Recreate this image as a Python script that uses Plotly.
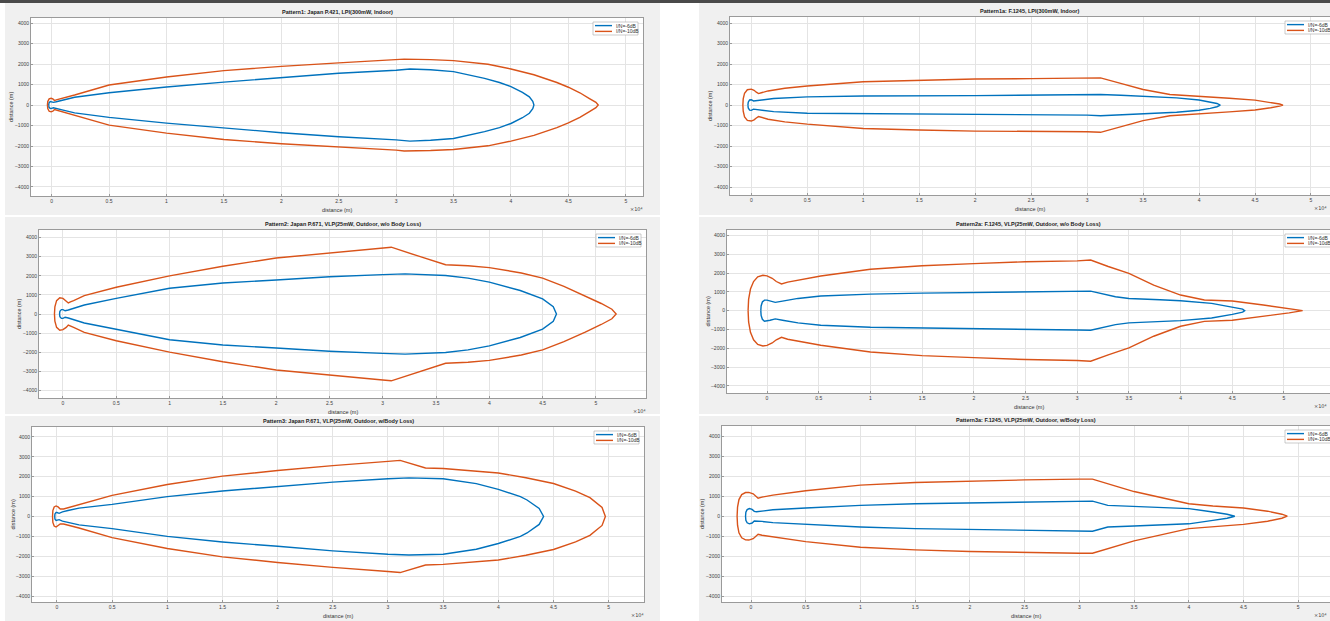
import plotly.graph_objects as go

W, H = 1330, 621
BLUE = "#0072BD"
ORANGE = "#D95319"
FONT = "Liberation Sans, Arial, sans-serif"

titles = [
    "Pattern1: Japan P.421, LPI(300mW, Indoor)",
    "Pattern1a: F.1245, LPI(300mW, Indoor)",
    "Pattern2: Japan P.671, VLP(25mW, Outdoor, w/o Body Loss)",
    "Pattern2a: F.1245, VLP(25mW, Outdoor, w/o Body Loss)",
    "Pattern3: Japan P.671, VLP(25mW, Outdoor, w/Body Loss)",
    "Pattern3a: F.1245, VLP(25mW, Outdoor, w/Body Loss)",
]
series_names = ["I/N=-6dB", "I/N=-10dB"]
series_colors = [BLUE, ORANGE]
x_label = "distance (m)"
y_label = "distance (m)"
x_tick_vals = [0, 5000, 10000, 15000, 20000, 25000, 30000, 35000, 40000, 45000, 50000]
x_tick_text = ["0", "0.5", "1", "1.5", "2", "2.5", "3", "3.5", "4", "4.5", "5"]
y_tick_vals = [-4000, -3000, -2000, -1000, 0, 1000, 2000, 3000, 4000]
x_exponent = "\u00d710\u2074"

# upper halves of the contours (x, y in metres); the lower halves mirror them
p1_blue_x = [-260, -230, -120, 0, 150, 400, 1000, 2000, 5000, 10000, 15000, 20000, 25000, 30000, 31200, 33000, 35000, 37700, 39000, 40000, 41000, 41600, 41900, 42000]
p1_blue_y = [0, 110, 170, 160, 130, 160, 250, 380, 600, 880, 1120, 1350, 1550, 1700, 1760, 1720, 1630, 1300, 1100, 900, 620, 400, 180, 0]
p1_orange_x = [-370, -340, -220, -50, 100, 250, 400, 1000, 2000, 5000, 10000, 15000, 20000, 25000, 30000, 30700, 33000, 35000, 38000, 40000, 42000, 44000, 45000, 46000, 46800, 47400, 47600]
p1_orange_y = [0, 170, 300, 330, 300, 220, 250, 340, 490, 980, 1370, 1680, 1890, 2060, 2200, 2240, 2220, 2170, 1990, 1760, 1480, 1100, 870, 600, 330, 130, 0]

p2_blue_x = [-300, -270, -150, 0, 200, 400, 1000, 2000, 5000, 10000, 20000, 30000, 31200, 33000, 35000, 38000, 40000, 41000, 41600, 41900]
p2_blue_y = [0, 140, 250, 260, 200, 210, 260, 320, 400, 440, 460, 490, 520, 480, 440, 350, 250, 160, 80, 0]
p2_orange_x = [-750, -720, -600, -350, 0, 250, 450, 650, 900, 1500, 3000, 5000, 10000, 15000, 20000, 25000, 30000, 31200, 33000, 35000, 37400, 40000, 42700, 45000, 46400, 47200, 47500]
p2_orange_y = [0, 300, 580, 750, 780, 720, 630, 560, 600, 690, 820, 930, 1140, 1220, 1270, 1290, 1300, 1330, 1060, 760, 520, 410, 330, 240, 130, 50, 0]

p3_blue_x = [-320, -290, -150, 0, 200, 500, 2000, 5000, 10000, 15000, 20000, 25000, 30000, 32100, 35900, 38000, 40000, 42900, 45000, 46000, 46300]
p3_blue_y = [0, 140, 230, 230, 170, 210, 470, 820, 1350, 1620, 1780, 1950, 2060, 2100, 2020, 1880, 1670, 1230, 790, 380, 0]
p3_orange_x = [-800, -760, -600, -300, 0, 300, 500, 700, 1000, 2000, 5000, 10000, 15000, 20000, 25000, 30000, 30800, 33300, 35900, 38000, 40000, 43000, 45000, 47000, 49000, 50500, 51500, 51900]
p3_orange_y = [0, 380, 700, 850, 820, 700, 580, 640, 700, 960, 1400, 2000, 2500, 2930, 3200, 3460, 3500, 3040, 2580, 2530, 2430, 2150, 1880, 1450, 950, 550, 250, 0]

p4_blue_x = [-600, -570, -450, -250, 0, 300, 800, 1500, 3000, 5200, 10000, 15000, 20000, 25000, 30000, 31300, 33700, 35000, 38000, 40000, 43000, 45000, 46000, 46200]
p4_blue_y = [0, 250, 460, 560, 560, 510, 440, 510, 650, 780, 880, 930, 970, 1000, 1030, 1040, 740, 650, 580, 530, 390, 200, 80, 0]
p4_orange_x = [-1830, -1780, -1600, -1300, -900, -400, 0, 500, 900, 1400, 2000, 5200, 10000, 15000, 20000, 25000, 30000, 31300, 33000, 35000, 37400, 40000, 42300, 45000, 48000, 50500, 51800]
p4_orange_y = [0, 600, 1150, 1550, 1800, 1880, 1850, 1720, 1550, 1420, 1520, 1840, 2200, 2390, 2500, 2600, 2650, 2690, 2350, 1980, 1360, 830, 570, 510, 300, 120, 0]

p5_blue_x = [-200, -180, -80, 0, 200, 500, 1000, 2000, 5000, 10000, 15000, 20000, 25000, 30000, 31900, 35000, 38000, 40000, 42000, 42600, 43700, 44100]
p5_blue_y = [0, 130, 200, 200, 160, 230, 300, 420, 610, 1000, 1280, 1500, 1730, 1900, 1940, 1900, 1650, 1360, 1000, 830, 400, 0]
p5_orange_x = [-400, -370, -250, -80, 100, 300, 600, 1000, 2000, 5000, 10000, 15000, 20000, 25000, 30000, 31100, 33400, 35000, 40000, 42500, 45000, 47000, 48300, 49400, 49700]
p5_orange_y = [0, 300, 480, 530, 480, 380, 380, 440, 580, 1060, 1610, 2030, 2310, 2560, 2770, 2820, 2440, 2410, 2190, 1950, 1660, 1280, 950, 450, 0]

p6_blue_x = [-500, -470, -350, -150, 100, 300, 500, 1000, 2000, 5000, 10000, 15000, 20000, 25000, 30000, 31200, 32600, 35000, 40000, 42200, 43500, 44200]
p6_blue_y = [0, 200, 330, 380, 340, 240, 220, 260, 320, 410, 540, 620, 650, 690, 740, 750, 540, 490, 380, 210, 100, 0]
p6_orange_x = [-1270, -1230, -1100, -850, -500, -200, 200, 500, 650, 1000, 2000, 5000, 10000, 15000, 20000, 25000, 30000, 31200, 33700, 35000, 40000, 42200, 45000, 47200, 48500, 49000]
p6_orange_y = [0, 450, 830, 1080, 1180, 1190, 1120, 980, 900, 950, 1050, 1270, 1550, 1680, 1760, 1810, 1850, 1850, 1440, 1230, 620, 510, 410, 250, 100, 0]

curves = [
    (p1_blue_x, p1_blue_y, p1_orange_x, p1_orange_y),
    (p2_blue_x, p2_blue_y, p2_orange_x, p2_orange_y),
    (p3_blue_x, p3_blue_y, p3_orange_x, p3_orange_y),
    (p4_blue_x, p4_blue_y, p4_orange_x, p4_orange_y),
    (p5_blue_x, p5_blue_y, p5_orange_x, p5_orange_y),
    (p6_blue_x, p6_blue_y, p6_orange_x, p6_orange_y),
]

# layout (pixels): axes box and axis ranges, plus the grey figure panel behind
panels = [
    dict(l=31, r=643, t=18, b=196, xr=[-1800, 51500], yr=[-4440, 4250], fig=(5, 3, 660, 215), left=True),
    dict(l=730, r=1330, t=17, b=195, xr=[-1900, 51700], yr=[-4390, 4300], fig=(699, 3, 1330, 215), left=False),
    dict(l=39, r=646, t=230, b=398, xr=[-2250, 54700], yr=[-4400, 4400], fig=(5, 217, 660, 414), left=True),
    dict(l=727, r=1330, t=230, b=393, xr=[-3870, 54450], yr=[-4380, 4290], fig=(699, 217, 1330, 414), left=False),
    dict(l=32, r=644, t=427, b=602, xr=[-2260, 53200], yr=[-4300, 4500], fig=(5, 416, 660, 621), left=True),
    dict(l=722, r=1330, t=426, b=602, xr=[-2650, 52900], yr=[-4280, 4500], fig=(699, 416, 1330, 621), left=False),
]


def px(x):
    return x / W


def py(y):
    return 1 - y / H


def closed(ux, uy):
    xs = list(ux) + list(reversed(ux))[1:]
    ys = list(uy) + [-v for v in reversed(uy)][1:]
    return xs, ys


fig = go.Figure()
shapes = [dict(type="rect", xref="paper", yref="paper", x0=0, x1=1, y0=py(3), y1=1,
               fillcolor="#4a4a4a", line_width=0, layer="below")]
annotations = []
layout = {}

for i, (p, c, title) in enumerate(zip(panels, curves, titles)):
    k = "" if i == 0 else str(i + 1)
    xa, ya = "xaxis" + k, "yaxis" + k
    fx0, fy0, fx1, fy1 = p["fig"]
    shapes.append(dict(type="rect", xref="paper", yref="paper", x0=px(fx0), x1=px(fx1),
                       y0=py(fy1), y1=py(fy0), fillcolor="#f0f0f0", line_width=0, layer="below"))
    shapes.append(dict(type="rect", xref="paper", yref="paper", x0=px(p["l"]), x1=px(p["r"]),
                       y0=py(p["b"]), y1=py(p["t"]), fillcolor="#ffffff", line_width=0, layer="below"))
    axis_common = dict(showline=True, mirror=True, linecolor="#9a9a9a", linewidth=1,
                       showgrid=True, gridcolor="#e4e4e4", gridwidth=1, zeroline=False,
                       ticks="inside", ticklen=2, tickcolor="#9a9a9a",
                       tickfont=dict(size=5, color="#404040", family=FONT))
    layout[xa] = dict(domain=[px(p["l"]), px(p["r"])], range=p["xr"], anchor="y" + k,
                      tickvals=x_tick_vals, ticktext=x_tick_text, **axis_common)
    layout[ya] = dict(domain=[py(p["b"]), py(p["t"])], range=p["yr"], anchor="x" + k,
                      tickvals=y_tick_vals, **axis_common)
    bx, by, ox, oy = c
    for (ux, uy), name, col in zip(((bx, by), (ox, oy)), series_names, series_colors):
        xs, ys = closed(ux, uy)
        fig.add_trace(go.Scatter(x=xs, y=ys, mode="lines", name=name, showlegend=False,
                                 line=dict(color=col, width=1.4),
                                 xaxis="x" + k, yaxis="y" + k))

    # MATLAB-style compact legend box (top-right inside the axes)
    if p["left"]:
        lx1 = p["r"] - 5
        lx0 = lx1 - 45
    else:
        lx0 = 1285
        lx1 = 1335
    ly0 = p["t"] + 4
    ly1 = ly0 + 13
    shapes.append(dict(type="rect", xref="paper", yref="paper", x0=px(lx0), x1=px(lx1),
                       y0=py(ly1), y1=py(ly0), fillcolor="#ffffff",
                       line=dict(color="#a8a8a8", width=0.6), layer="above"))
    for j, (name, col) in enumerate(zip(series_names, series_colors)):
        yy = ly0 + 3.6 + j * 5.8
        shapes.append(dict(type="line", xref="paper", yref="paper", x0=px(lx0 + 2),
                           x1=px(lx0 + 19), y0=py(yy), y1=py(yy),
                           line=dict(color=col, width=1.4), layer="above"))
        annotations.append(dict(text=name, xref="paper", yref="paper", x=px(lx0 + 20.5),
                                y=py(yy), xanchor="left", yanchor="middle", showarrow=False,
                                font=dict(size=5, family=FONT, color="#303030")))

    cx = (p["l"] + p["r"]) / 2
    annotations.append(dict(text=title, xref="paper", yref="paper",
                            x=px(cx), y=py(p["t"] - 1), xanchor="center", yanchor="bottom",
                            showarrow=False,
                            font=dict(size=5.5, family=FONT, color="#202020", weight="bold")))
    annotations.append(dict(text=x_label, xref="paper", yref="paper",
                            x=px(cx), y=py(p["b"] + 9), xanchor="center", yanchor="top",
                            showarrow=False, font=dict(size=5.5, family=FONT, color="#303030")))
    annotations.append(dict(text=y_label, xref="paper", yref="paper", textangle=-90,
                            x=px(p["l"] - 20), y=py((p["t"] + p["b"]) / 2), xanchor="center",
                            yanchor="middle", showarrow=False,
                            font=dict(size=5.5, family=FONT, color="#303030")))
    annotations.append(dict(text=x_exponent, xref="paper", yref="paper",
                            x=px(min(p["r"] + 2, 1329)), y=py(p["b"] + 8), xanchor="right",
                            yanchor="top", showarrow=False,
                            font=dict(size=5, family="DejaVu Sans, sans-serif", color="#404040")))

fig.update_layout(
    width=W, height=H, margin=dict(l=0, r=0, t=0, b=0),
    paper_bgcolor="#ffffff", plot_bgcolor="rgba(0,0,0,0)",
    showlegend=False, shapes=shapes, annotations=annotations,
    font=dict(family=FONT), **layout,
)
fig.write_html("out.html", config={"displayModeBar": False},
               post_script="document.body.style.margin='0px';document.body.style.padding='0px';")
